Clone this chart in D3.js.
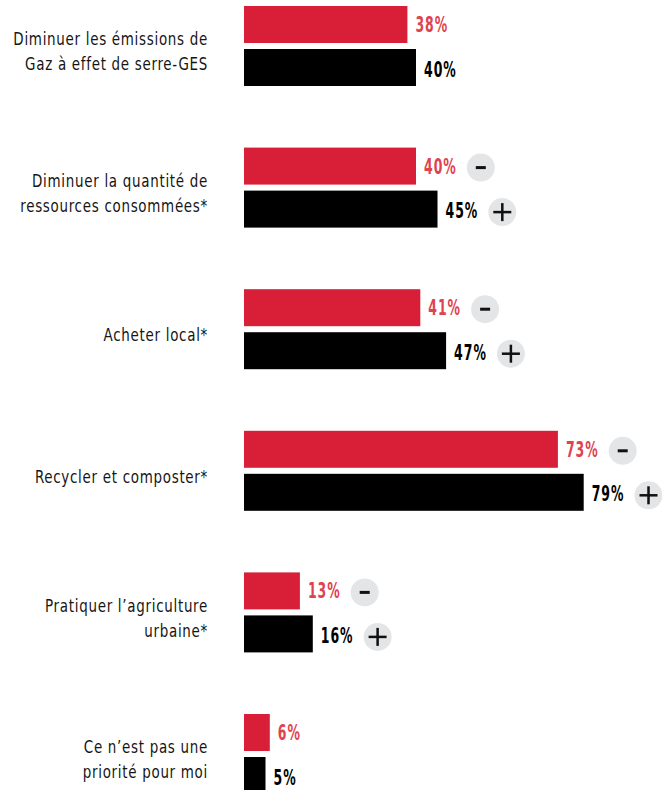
<!DOCTYPE html>
<html><head><meta charset="utf-8">
<script src="https://cdn.jsdelivr.net/npm/d3@7"></script>
<style>
html,body{margin:0;padding:0;background:#fff;}
svg{display:block;}
</style></head>
<body><div id="chart"></div>
<script>
const categories = [
  ["Diminuer les émissions de", "Gaz à effet de serre-GES"],
  ["Diminuer la quantité de", "ressources consommées*"],
  ["Acheter local*"],
  ["Recycler et composter*"],
  ["Pratiquer l’agriculture", "urbaine*"],
  ["Ce n’est pas une", "priorité pour moi"]
];
const seriesNames = ["avant", "apres"];
const redValues = [38, 40, 41, 73, 13, 6];
const blackValues = [40, 45, 47, 79, 16, 5];
const redIcons = ["", "-", "-", "-", "-", ""];
const blackIcons = ["", "+", "+", "+", "+", ""];

const W = 662, H = 790;
const svg = d3.select("#chart").append("svg").attr("width", W).attr("height", H);

const x = d3.scaleLinear().domain([0, 100]).range([244, 674]);
const y = d3.scaleBand().domain(d3.range(categories.length)).range([6, 6 + 141.6 * 6]).paddingInner(0).paddingOuter(0);
const ys = d3.scaleBand().domain(seriesNames).range([0, 80]).paddingInner(0.14).paddingOuter(0);

const colors = {avant: "#d81f37", apres: "#000000"};
const textColors = {avant: "#e0434f", apres: "#000000"};
const FONT = "'DejaVu Sans Condensed','DejaVu Sans',sans-serif";
const labelScale = 0.88;
const valueScale = 0.66;

const rows = categories.map((c, i) => ({
  i, label: c,
  bars: [
    {s: "avant", v: redValues[i], icon: redIcons[i]},
    {s: "apres", v: blackValues[i], icon: blackIcons[i]}
  ]
}));

const g = svg.selectAll("g.row").data(rows).join("g").attr("class", "row")
  .attr("transform", d => `translate(0,${y(d.i)})`);

// category labels
g.append("g")
  .attr("transform", `translate(208,0) scale(${labelScale},1)`)
  .append("text")
  .attr("text-anchor", "end")
  .style("font-family", FONT)
  .style("font-size", "17px")
  .style("letter-spacing", "0.8px")
  .attr("fill", "#151515")
  .each(function(d) {
    const n = d.label.length;
    const t = d3.select(this);
    d.label.forEach((line, k) => {
      t.append("tspan").attr("x", 0)
        .attr("y", 40 + 12 + (k - (n - 1) / 2) * 25)
        .text(line);
    });
  });

const b = g.selectAll("g.bar").data(d => d.bars).join("g").attr("class", "bar")
  .attr("transform", d => `translate(0,${ys(d.s)})`);

b.append("rect")
  .attr("x", x(0))
  .attr("y", 0)
  .attr("width", d => x(d.v) - x(0))
  .attr("height", ys.bandwidth())
  .attr("fill", d => colors[d.s]);

b.append("g")
  .attr("transform", d => `translate(${x(d.v) + 8},${ys.bandwidth() / 2 + 7.5 + (d.s === "apres" ? 1.5 : 0)}) scale(${valueScale},1)`)
  .append("text")
  .attr("class", "val")
  .style("font-family", FONT)
  .style("font-weight", "bold")
  .style("font-size", "21px")
  .style("letter-spacing", "1.5px")
  .attr("fill", d => textColors[d.s])
  .text(d => d.v + "%");

b.each(function(d) {
  if (!d.icon) return;
  const gg = d3.select(this);
  const tw = gg.select("text.val").node().getComputedTextLength() * valueScale;
  const cx = x(d.v) + 8 + tw + 24;
  const cy = ys.bandwidth() / 2 + (d.s === "apres" ? 3 : 1.5);
  gg.append("circle").attr("cx", cx).attr("cy", cy).attr("r", 14).attr("fill", "#e4e5e7");
  if (d.icon === "-") {
    gg.append("rect").attr("x", cx - 5).attr("y", cy - 1.5).attr("width", 10).attr("height", 3).attr("fill", "#111");
  } else {
    gg.append("rect").attr("x", cx - 9).attr("y", cy - 1.25).attr("width", 18).attr("height", 2.5).attr("fill", "#111");
    gg.append("rect").attr("x", cx - 1.25).attr("y", cy - 9).attr("width", 2.5).attr("height", 18).attr("fill", "#111");
  }
});
</script>
</body></html>
